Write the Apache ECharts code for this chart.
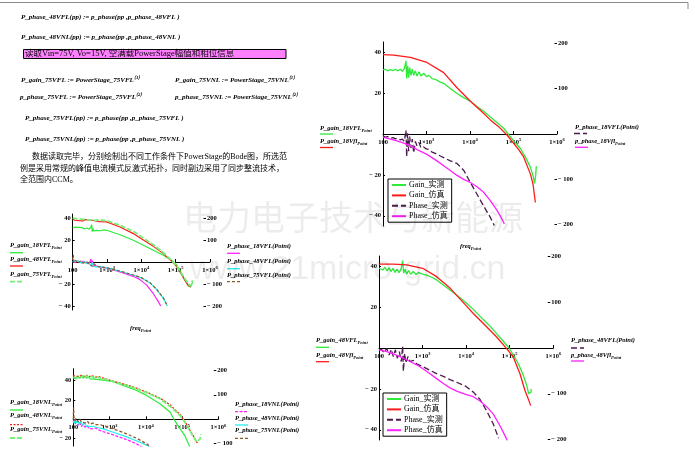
<!DOCTYPE html>
<html><head><meta charset="utf-8">
<script src="https://cdn.jsdelivr.net/npm/echarts@6/dist/echarts.min.js"></script>
<style>html,body{margin:0;padding:0;background:#fff}#c{width:695px;height:475px}</style>
</head><body><div id="c"></div>
<script>
// ---------- DATA (frequency Hz, value) ----------
// Chart 1 : Vin=18V full load
const c1GainMeas = [[100,31.4],[113,31.7],[128,30.9],[147,31.5],[170,31.0],[192,31.7],[217,30.9],[250,31.7],[278,30.7],[309,32.0],[338,35.8],[350,27.1],[369,33.3],[389,27.6],[410,32.5],[440,28.7],[472,31.7],[507,28.7],[554,30.9],[605,28.4],[672,30.4],[747,28.4],[861,29.7],[991,28.1],[1141,28.7],[1338,27.1],[1597,26.7],[2080,25.4],[2480,24.8],[3532,22.3],[5025,19.8],[7150,17.8],[10180,16.0],[14490,13.5],[20620,11.1],[29340,8.3],[41760,5.6],[59420,2.8],[84560,-1.3],[110200,-4.3],[143600,-7.1],[187100,-11.2],[243800,-16.2],[280700,-20.3],[306700,-24.1],[323300,-20.3],[335000,-15.7]];
const c1GainSim = [[100,38.8],[176,38.6],[425,37.5],[1025,35.0],[2480,30.0],[5030,22.6],[10190,16.0],[17280,11.6],[29300,6.9],[45600,3.6],[70900,-0.5],[101000,-4.6],[131500,-7.6],[171000,-11.2],[244000,-19.5],[280500,-24.4],[318000,-33.5]];
const c1PhaseMeas = [[100,-4.3],[113,-7],[128,-5.7],[147,-9.3],[170,-7.9],[192,-10.7],[217,-9.3],[250,-12.9],[278,-11.4],[309,-16.4],[338,8.6],[350,-50],[369,1.4],[389,-37.9],[410,-5.7],[440,-30.7],[472,-11.4],[507,-41.4],[554,-16.4],[605,-25.7],[672,-18.6],[747,-30.7],[861,-28.6],[991,-32.9],[1141,-34.3],[1338,-40],[1597,-42.9],[2080,-48.6],[2480,-52.1],[3532,-59.3],[5025,-65],[7150,-80],[10180,-107],[14490,-133],[20620,-159],[29340,-184],[36200,-202]];
const c1PhaseSim = [[100,-7.1],[147,-11.4],[210,-15],[298,-20],[425,-25.7],[605,-34.3],[1025,-45],[1741,-59.3],[2480,-70],[3532,-80.7],[5030,-91.4],[7150,-100],[10190,-107],[14490,-116.4],[20620,-128.6],[29340,-147],[41800,-168.6],[54500,-187.9],[61600,-198.6]];

// Chart 2 : full load, 18V / 48V / 75V
const c2Gain18VFL = [[100,30.9],[115,31.6],[131,30.2],[150,31.5],[164,30.3],[190,31.2],[220,30.0],[256,30.9],[300,29.8],[340,31.8],[358,33.9],[370,27.5],[390,30.6],[410,28.2],[440,30.0],[500,28.8],[560,29.6],[650,28.4],[780,29.1],[978,28.8],[2390,24.8],[5848,19.7],[10000,16.1],[22360,10.6],[43730,6.1],[76460,1.5],[100000,-1.5],[133700,-7.6],[187000,-16.7],[233800,-21.8],[273500,-22.7],[312600,-18.2]];
const c2Gain48VFL = [[100,38.8],[115,37.9],[131,39.1],[150,37.6],[170,38.8],[200,37.3],[230,38.5],[260,36.9],[300,38.2],[340,36.4],[380,37.9],[420,36.1],[470,37.3],[500,36.7],[600,36.7],[978,36.4],[2390,31.8],[5848,25.8],[10000,21.2],[22360,14.2],[43730,7.6],[76460,0.6],[100000,-3],[133700,-9.1],[187000,-16.7],[233800,-21.2],[273500,-22.7]];
const c2Gain75VFL = [[100,40.0],[112,41.2],[125,39.4],[140,40.9],[160,39.1],[180,40.6],[205,38.8],[230,40.3],[260,38.5],[290,40.0],[330,38.2],[370,39.7],[420,37.9],[480,38.8],[600,38.2],[978,37.6],[2390,33.3],[5848,27.9],[10000,23.0],[22360,15.6],[43730,8.5],[76460,1.2],[100000,-2.4],[133700,-8.5],[187000,-15.2],[233800,-19.7],[273500,-21.8],[312600,-16.7]];
const c2Phase18VFL = [[100,2],[120,-3],[140,4],[164,-2],[200,3],[256,-4],[300,-8],[340,14],[358,-12],[380,6],[400,-15],[450,-10],[500,-19],[600,-22],[978,-27],[2390,-45],[5848,-65],[9140,-80],[14290,-105],[22360,-144],[31260,-180],[36570,-200]];
const c2Phase48VFL = [[100,0],[115,5],[130,-4],[150,3],[180,-6],[220,2],[256,-8],[300,-5],[340,-18],[370,-3],[400,-20],[450,-12],[500,-22],[600,-20],[978,-27],[2390,-42],[5848,-60],[10000,-72],[17870,-95],[27970,-125],[43730,-165],[57200,-200]];
const c2Phase75VFL = [[100,10],[104,33],[108,-2],[120,8],[140,-5],[170,4],[200,-6],[256,2],[300,-10],[340,-4],[380,-20],[420,-8],[500,-18],[600,-22],[978,-26],[2390,-41],[5848,-59],[10000,-71],[17870,-94],[27970,-124],[43730,-163],[57200,-198]];

// Chart 3 : no load, 18V / 48V / 75V
const c3Gain18VNL = [[100,42.5],[110,44.5],[122,42.0],[135,44.8],[150,42.3],[168,45.0],[188,42.6],[210,44.7],[235,42.2],[262,44.3],[295,41.8],[330,43.8],[370,41.5],[420,43.0],[500,41.0],[672,40.5],[1269,39.0],[2960,33.8],[5585,29.8],[10550,24.7],[24600,16.1],[46400,7.5],[59800,0],[87700,-9.6],[120300,-17.1],[148600,-25],[170000,-29.5]];
const c3Gain48VNL = [[100,45.5],[115,44.2],[130,46.2],[150,44.5],[175,45.9],[200,44.2],[240,45.5],[280,44.0],[330,45.2],[400,43.6],[500,44.2],[672,42.5],[1269,39.4],[2960,35.6],[5585,32.2],[10550,28.1],[24600,21.9],[46400,15.1],[63800,9.9],[87700,5.1],[109000,0],[148600,-7.9],[165200,-11.3],[204200,-17.1],[252400,-23.3],[280500,-26]];
const c3Gain75VNL = [[100,43.5],[112,45.2],[125,43.0],[140,45.0],[160,43.2],[185,45.2],[210,43.0],[240,44.8],[280,42.6],[320,44.5],[380,42.8],[450,44.0],[560,42.3],[672,42.0],[1269,39.0],[2960,35.0],[5585,31.5],[10550,27.5],[24600,21.2],[46400,13.5],[63800,8.8],[87700,3.8],[106000,0],[148600,-8.6],[165200,-12],[204200,-18],[252400,-23.3],[280500,-24.3],[311800,-20.5],[332500,-15.4]];
const c3Phase18VNL = [[100,-12],[108,-2],[115,-20],[125,-8],[135,-26],[150,-14],[165,-30],[189,-22],[210,-33],[240,-26],[270,-38],[300,-32],[356,-40],[420,-36],[500,-44],[672,-50.7],[1269,-64.4],[2960,-83.6],[5585,-101],[8000,-115]];
const c3Phase48VNL = [[100,-6.8],[106,-18],[113,-2],[122,-16],[132,-5],[145,-22],[160,-10],[180,-25],[200,-14],[230,-28],[260,-20],[300,-30],[356,-28.8],[420,-33],[500,-35],[672,-39.7],[1269,-53.4],[2960,-72.6],[6890,-94.5],[10000,-105],[13000,-115]];
const c3Phase75VNL = [[100,-1.4],[102,48],[104,10],[110,-6],[120,4],[135,-10],[150,0],[170,-12],[189,-9.6],[215,-15],[245,-8],[280,-20],[356,-16.4],[420,-22],[500,-22],[672,-26],[1269,-39.7],[2960,-60],[5585,-78],[10550,-101],[14000,-115]];

// Chart 4 : Vin=48V full load
const c4GainMeas = [[100,39.0],[111,39.8],[124,38.2],[137,39.5],[153,37.7],[170,39.2],[188,37.4],[210,39.0],[233,37.0],[259,38.5],[288,36.9],[320,38.5],[349,42.8],[368,36.6],[395,38.5],[431,36.2],[479,37.9],[533,36.1],[614,37.4],[706,35.9],[813,36.9],[1004,36.1],[1241,35.6],[1616,34.6],[2104,33.3],[2994,30.8],[4257,28.4],[6053,25.9],[9740,22.3],[14600,18.9],[24770,13.9],[35230,10.7],[50110,7.0],[71260,3.3],[96100,0],[120800,-3.3],[157400,-7.7],[205000,-13.3],[244400,-18.2],[271600,-22.3],[291500,-22.8],[307300,-21.6],[312700,-20]];
const c4GainSim = [[100,41.0],[213,41.0],[431,40.7],[1005,39.0],[2104,34.9],[4256,29.3],[9740,21.0],[14590,16.9],[24790,12.0],[35240,8.7],[50150,5.4],[84980,-0.3],[120800,-4.4],[171800,-12.6],[223800,-20.8],[266800,-24.9],[301700,-28.2]];
const c4PhaseMeas = [[100,-4.3],[115,-2.9],[130,-10.1],[150,-0.7],[170,-15.1],[192,-2.9],[213,-18.7],[237,-4.3],[263,-22.3],[293,-7.9],[325,-29.5],[349,4.3],[362,-51],[388,-11.5],[416,-33.1],[463,-18.7],[514,-29.5],[614,-27.3],[731,-34.5],[1004,-40.3],[1480,-48.9],[2104,-56.1],[2994,-61.9],[4257,-69.1],[6053,-74.8],[9740,-83.5],[14600,-96.4],[20770,-112.2],[29540,-137.4],[42010,-166.2],[55680,-197.1]];
const c4PhaseSim = [[100,-4.3],[150,-7.9],[213,-12.9],[303,-18.7],[514,-29.5],[731,-36.7],[1040,-46],[1480,-56.1],[2104,-66.9],[2994,-77.7],[4257,-87.1],[6053,-94.2],[9740,-101.4],[14600,-106.5],[20770,-115.8],[29540,-128.1],[42010,-144.6],[59750,-169.8],[77800,-191.4],[88050,-202.2]];

// Axis tick labels
const gainTicks = [-40, -20, 20, 40];
const gainTicks3 = [-20, 20, 40];
const phaseTicks = [-200, -100, 100, 200];
const phaseTicks3 = [-100, 100, 200];
const legendNames = ['Gain_实测', 'Gain_仿真', 'Phase_实测', 'Phase_仿真'];

// ---------- STYLE ----------
const SERIF = '"Liberation Serif","Noto Sans CJK SC",serif';
const C = {green:'#2eea3a', lgreen:'#74f274', red:'#ff1a1a', purple:'#4d1a4d', magenta:'#ff22ff', cyan:'#22eeee', brown:'#8b5a2b'};

const grids = [
  {left:383, top:42, width:174, height:184, g:[-45,45], p:[-203,203], gt:gainTicks, pt:phaseTicks, off:0},
  {left:72.7, top:214, width:137.3, height:96, g:[-43.6,43.6], p:[-218,218], gt:gainTicks, pt:phaseTicks, off:-4},
  {left:73.3, top:368.7, width:145, height:77.8, g:[-28.1,52.3], p:[-111.8,206.7], gt:gainTicks3, pt:phaseTicks3, off:-2},
  {left:379, top:256, width:174.3, height:184, g:[-45,45], p:[-201,201], gt:gainTicks, pt:phaseTicks, off:-3}
];

function numFmt(v){ return v < 0 ? '\u2212 ' + (-v) : String(v); }
const lblStyle = {fontSize:6.5, fontFamily:SERIF, fontWeight:'bold', color:'#000'};

const xAxis = [], yAxis = [];
grids.forEach((g, i) => {
  // x axis drawn where the gain axis is 0 (Mathcad style)
  const zeroUp = g.height * (0 - g.g[0]) / (g.g[1] - g.g[0]);
  xAxis.push({type:'log', logBase:10, gridIndex:i, min:100, max:1e6, position:'bottom', offset:-zeroUp,
    axisLine:{show:true, onZero:false, lineStyle:{color:'#000', width:1}},
    axisTick:{show:true, inside:true, length:3, lineStyle:{color:'#000', width:1}},
    splitLine:{show:false}, minorTick:{show:false},
    axisLabel:{margin:4, showMinLabel:true, showMaxLabel:true,
      formatter: v => v <= 100.5 ? '{n|100}' : '{n|1×10}{s|' + Math.round(Math.log10(v)) + '}',
      rich:{n:{fontSize:6.5, fontFamily:SERIF, fontWeight:'bold', color:'#000', lineHeight:9},
            s:{fontSize:4.5, fontFamily:SERIF, fontWeight:'bold', color:'#000', lineHeight:9, verticalAlign:'top'}}}
  });
  yAxis.push({type:'value', gridIndex:i, position:'left', min:g.g[0], max:g.g[1],
    axisLine:{show:true, onZero:false, lineStyle:{color:'#000', width:1}},
    axisTick:{show:true, inside:true, length:2, customValues:g.gt, lineStyle:{color:'#000'}},
    axisLabel:Object.assign({customValues:g.gt, margin:2, formatter:numFmt}, lblStyle),
    splitLine:{show:false}});
  yAxis.push({type:'value', gridIndex:i, position:'right', offset:g.off, min:g.p[0], max:g.p[1],
    axisLine:{show:false, onZero:false},
    axisTick:{show:true, inside:true, length:2.5, customValues:g.pt, lineStyle:{color:'#000'}},
    axisLabel:Object.assign({customValues:g.pt, margin:1, formatter:numFmt}, lblStyle),
    splitLine:{show:false}});
});

function S(name, gi, phase, data, color, width, dash) {
  return {type:'line', name:name, xAxisIndex:gi, yAxisIndex:gi*2 + (phase ? 1 : 0), data:data,
    symbol:'none', showSymbol:false, clip:true, animation:false, silent:true,
    lineStyle:{color:color, width:width, type:dash || 'solid'}, itemStyle:{color:color}};
}

const series = [
  S('Gain_实测', 0, false, c1GainMeas, C.green, 1.3),
  S('Gain_仿真', 0, false, c1GainSim, C.red, 1.3),
  S('Phase_实测', 0, true, c1PhaseMeas, C.purple, 1.3, [6,3]),
  S('Phase_仿真', 0, true, c1PhaseSim, C.magenta, 1.3),

  S('P_gain_18VFL', 1, false, c2Gain18VFL, C.green, 1.2),
  S('P_gain_48VFL', 1, false, c2Gain48VFL, C.red, 1.2),
  S('P_gain_75VFL', 1, false, c2Gain75VFL, C.lgreen, 1.8, [5,2]),
  S('P_phase_18VFL', 1, true, c2Phase18VFL, C.magenta, 1.2),
  S('P_phase_48VFL', 1, true, c2Phase48VFL, C.cyan, 1.2),
  S('P_phase_75VFL', 1, true, c2Phase75VFL, C.brown, 1.2, [3,2]),

  S('P_gain_18VNL', 2, false, c3Gain18VNL, C.green, 1.2),
  S('P_gain_48VNL', 2, false, c3Gain48VNL, C.red, 1.3, [2,1.5]),
  S('P_gain_75VNL', 2, false, c3Gain75VNL, C.lgreen, 1.8, [5,2]),
  S('P_phase_18VNL', 2, true, c3Phase18VNL, C.magenta, 1.3, [3,1.5]),
  S('P_phase_48VNL', 2, true, c3Phase48VNL, C.cyan, 1.2),
  S('P_phase_75VNL', 2, true, c3Phase75VNL, C.brown, 1.3, [3,2]),

  S('Gain_实测', 3, false, c4GainMeas, C.green, 1.3),
  S('Gain_仿真', 3, false, c4GainSim, C.red, 1.3),
  S('Phase_实测', 3, true, c4PhaseMeas, C.purple, 1.3, [6,3]),
  S('Phase_仿真', 3, true, c4PhaseSim, C.magenta, 1.3)
];

function legendAt(left, top) {
  return {left:left, top:top, orient:'vertical', data:legendNames, selectedMode:false,
    itemWidth:14, itemHeight:8, itemGap:2.4, padding:[2,4,2,3],
    borderColor:'#000', borderWidth:1, backgroundColor:'#fff',
    itemStyle:{color:'rgba(0,0,0,0)', borderColor:'rgba(0,0,0,0)', borderWidth:0, opacity:0},
    textStyle:{fontSize:8, fontFamily:SERIF, color:'#000', padding:[0,0,0,-2]}};
}

// ---------- TEXT / DECORATION ----------
const graphic = [];
function txt(x, y, text, o) {
  o = o || {};
  graphic.push({type:'text', x:x, y:y, z:50, silent:true,
    style:Object.assign({text:text, fill:'#000', fontSize:o.fs || 7, fontFamily:SERIF,
      fontWeight:o.fw || 'bold', fontStyle:o.fst || 'italic', verticalAlign:'middle', align:'left'}, o.extra || {})});
}
function rtxt(x, y, main, small, up, fs) {
  fs = fs || 6.5;
  const base = {fontSize:fs, fontFamily:SERIF, fontWeight:'bold', fontStyle:'italic', fill:'#000', lineHeight:fs + 3};
  graphic.push({type:'text', x:x, y:y, z:50, silent:true,
    style:{text:'{m|' + main + '}{s|' + small + '}', verticalAlign:'middle', align:'left',
      rich:{m:Object.assign({}, base, {verticalAlign:'middle'}),
            s:Object.assign({}, base, {fontSize:fs * 0.7, verticalAlign: up ? 'top' : 'bottom'})}}});
}
function key(x, y, color, dash, w) {
  graphic.push({type:'line', z:50, silent:true, shape:{x1:x, y1:y, x2:x + 13, y2:y},
    style:{stroke:color, lineWidth:w || 1.3, lineDash:dash || null}});
}

// top border
graphic.push({type:'line', z:50, silent:true, shape:{x1:0, y1:2.5, x2:688, y2:2.5}, style:{stroke:'#8a8a8a', lineWidth:1}});
graphic.push({type:'line', z:50, silent:true, shape:{x1:688, y1:2.5, x2:688, y2:9}, style:{stroke:'#8a8a8a', lineWidth:1}});

txt(21, 16.7, 'P_phase_48VFL(pp) := p_phase(pp ,p_phase_48VFL )');
txt(21, 36.7, 'P_phase_48VNL(pp) := p_phase(pp ,p_phase_48VNL )');
graphic.push({type:'rect', z:49, silent:true, shape:{x:23.5, y:49.5, width:262.5, height:9}, style:{fill:'#ff80ff', stroke:'#000', lineWidth:1}});
txt(25, 54.2, '读取Vin=75V, Vo=15V, 空满载PowerStage幅值和相位信息', {fs:8.5, fw:'normal', fst:'normal'});
rtxt(21, 80, 'P_gain_75VFL := PowerStage_75VFL', '⟨1⟩', true, 7);
rtxt(175, 80, 'P_gain_75VNL := PowerStage_75VNL', '⟨1⟩', true, 7);
rtxt(20, 97, 'p_phase_75VFL := PowerStage_75VFL', '⟨2⟩', true, 7);
rtxt(175, 97, 'p_phase_75VNL := PowerStage_75VNL', '⟨2⟩', true, 7);
txt(25, 118, 'P_phase_75VFL(pp) := p_phase(pp ,p_phase_75VFL )');
txt(25, 138.7, 'P_phase_75VNL(pp) := p_phase(pp ,p_phase_75VNL )');
txt(32, 157, '数据读取完毕，分别绘制出不同工作条件下PowerStage的Bode图，所选范', {fs:8, fw:'normal', fst:'normal'});
txt(20, 169, '例是采用常规的峰值电流模式反激式拓扑，同时副边采用了同步整流技术，', {fs:8, fw:'normal', fst:'normal'});
txt(20, 180, '全范围内CCM。', {fs:8, fw:'normal', fst:'normal'});

// chart 1 trace labels
rtxt(320, 128.3, 'P_gain_18VFL', 'Point'); key(320, 134, C.green);
rtxt(320, 141, 'P_gain_18Vfl', 'Point'); key(320, 147.5, C.red);
txt(575, 127.7, 'P_phase_18VFL(Point)', {fs:6.5}); key(574, 133.5, C.purple, [6,3]);
rtxt(575, 141, 'p_phase_18Vfl', 'Point'); key(575, 147.3, C.magenta);
rtxt(460, 246.5, 'freq', 'Point');

// chart 2 trace labels
rtxt(10, 245.7, 'P_gain_18VFL', 'Point'); key(10, 252.7, C.green);
rtxt(10, 259.3, 'P_gain_48VFL', 'Point'); key(10, 266, C.red);
rtxt(10, 274, 'P_gain_75VFL', 'Point'); key(10, 281.7, C.lgreen, [5,2], 1.8);
txt(227, 246.7, 'P_phase_18VFL(Point)', {fs:6.5}); key(227, 253.3, C.magenta);
txt(227, 261.7, 'P_phase_48VFL(Point)', {fs:6.5}); key(227, 268.7, C.cyan);
txt(227, 275, 'P_phase_75VFL(Point)', {fs:6.5}); key(227, 281.7, C.brown, [3,2]);
rtxt(130, 328, 'freq', 'Point');

// chart 3 trace labels
rtxt(10, 402.3, 'P_gain_18VNL', 'Point'); key(10, 410, C.green);
rtxt(10, 415.7, 'P_gain_48VNL', 'Point'); key(10, 424.7, C.red, [2,1.5]);
rtxt(10, 429.3, 'P_gain_75VNL', 'Point'); key(10, 438, C.lgreen, [5,2], 1.8);
txt(235, 404.3, 'P_phase_18VNL(Point)', {fs:6.5}); key(235, 411.7, C.magenta, [3,1.5]);
txt(235, 418, 'P_phase_48VNL(Point)', {fs:6.5}); key(235, 425, C.cyan);
txt(235, 430.7, 'P_phase_75VNL(Point)', {fs:6.5}); key(235, 438.3, C.brown, [3,2]);

// chart 4 trace labels
rtxt(316, 340, 'P_gain_48VFL', 'Point'); key(316, 347.3, C.green);
rtxt(316, 355.7, 'P_gain_48Vfl', 'Point'); key(316, 361.7, C.red);
txt(571, 340.7, 'P_phase_48VFL(Point)', {fs:6.5}); key(571, 348, C.purple, [6,3]);
rtxt(571, 355, 'p_phase_48Vfl', 'Point'); key(571, 361, C.magenta);

// watermark
graphic.push({type:'text', x:183, y:217, z:90, silent:true, style:{text:'电力电子技术与新能源', fill:'rgba(0,0,0,0.075)', fontSize:34, fontFamily:'"Noto Sans CJK SC"', verticalAlign:'middle'}});
graphic.push({type:'text', x:190, y:270, z:90, silent:true, style:{text:'www.21micro-grid.cn', fill:'rgba(0,0,0,0.075)', fontSize:34, fontFamily:'"Liberation Sans"', verticalAlign:'middle'}});
// page end
graphic.push({type:'rect', z:95, silent:true, shape:{x:0, y:446.5, width:695, height:30}, style:{fill:'#fff'}});

const chart = echarts.init(document.getElementById('c'), null, {renderer:'canvas'});
chart.setOption({
  animation:false,
  backgroundColor:'#fff',
  grid: grids.map(g => ({left:g.left, top:g.top, width:g.width, height:g.height, containLabel:false})),
  xAxis: xAxis,
  yAxis: yAxis,
  legend: [legendAt(388, 179), legendAt(383, 393)],
  series: series,
  graphic: {elements: graphic}
});
</script></body></html>
